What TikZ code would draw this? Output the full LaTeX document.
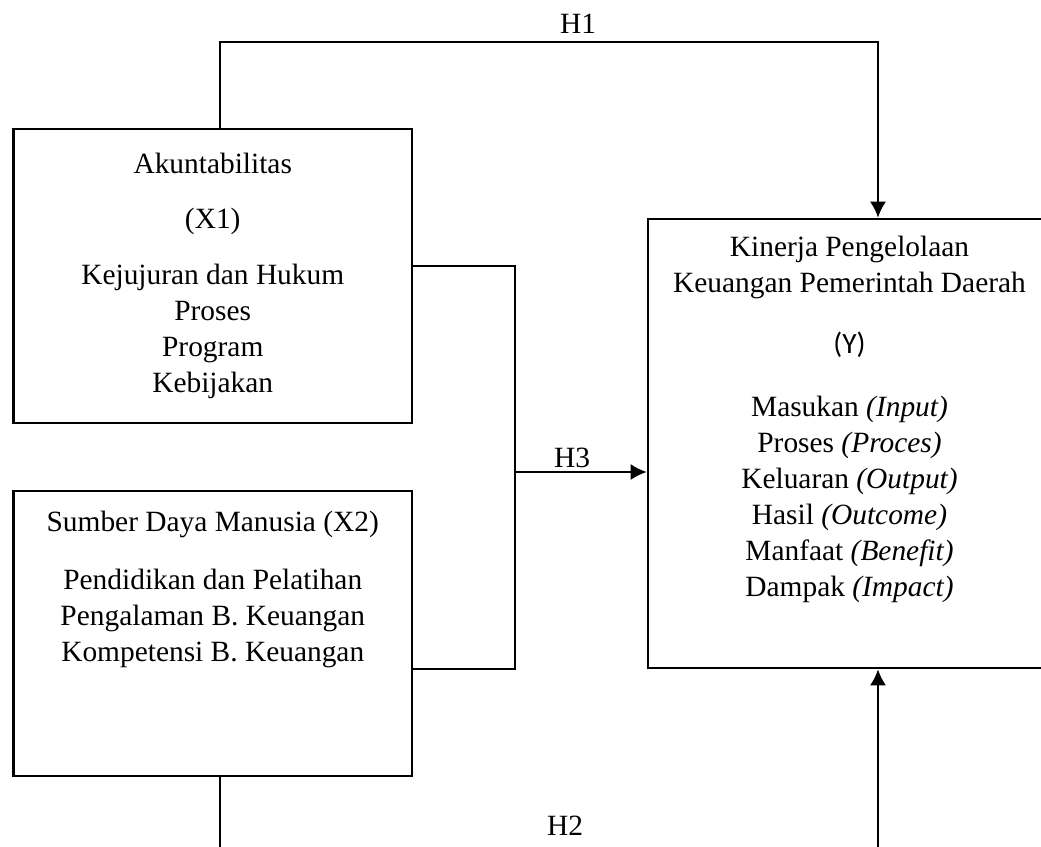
\documentclass[tikz,border=0pt]{standalone}
\usepackage{fontspec}
\setmainfont{Liberation Serif}
\newfontfamily\ysans{Carlito}
\usetikzlibrary{positioning,arrows.meta}

\tikzset{
  kotak/.style={draw, line width=1.3pt, minimum width=199.25pt},
  teks/.style={align=center, inner sep=0pt, font=\fontsize{14.7}{18}\selectfont},
  garis/.style={line width=1pt},
  panah/.style={garis, -{Latex[length=8pt,width=8pt]}},
}

\begin{document}
\begin{tikzpicture}[x=0.5pt,y=-0.5pt]
        \path[use as bounding box, clip] (0,0) rectangle (1041,847);

        % 方框
        \node[kotak, minimum height=147pt] (x1) at (212.75,276) {};
        \node[kotak, minimum height=142.5pt] (x2) at (212.75,633.5) {};
        \node[kotak, minimum width=201.5pt, minimum height=224.5pt] (y) at (849.5,443.5) {};

        % 文字
        \node[teks, below=12.6pt of x1.north] (x1teks) {Akuntabilitas\\[9.2pt](X1)\\[10pt]Kejujuran dan Hukum\\Proses\\Program\\Kebijakan};
        \node[teks, below=10.6pt of x2.north] (x2teks) {Sumber Daya Manusia (X2)\\[10.75pt]Pendidikan dan Pelatihan\\Pengalaman B. Keuangan\\Kompetensi B. Keuangan};
        \node[teks, below=8.8pt of y.north] (yteks) {Kinerja Pengelolaan\\Keuangan Pemerintah Daerah\\[12.5pt]{\ysans (Y)}\\[13.5pt]Masukan \textit{(Input)}\\Proses \textit{(Proces)}\\Keluaran \textit{(Output)}\\Hasil \textit{(Outcome)}\\Manfaat \textit{(Benefit)}\\Dampak \textit{(Impact)}};

        % 连线
        \coordinate (h1a) at (220,42);
        \coordinate (h1b) at (878,42);
        \draw[panah] (h1a |- x1.north) -- (h1a) -- (h1b) -- (h1b |- y.north);

        \coordinate (j1) at (515,266);
        \coordinate (j2) at (515,669);
        \coordinate (h3) at (515,472);
        \draw[garis] (j1 -| x1.east) -- (j1) -- (j2) -- (j2 -| x2.east);
        \draw[panah] (h3) -- (h3 -| y.west);

        \coordinate (h2a) at (220,880);
        \coordinate (h2b) at (878,880);
        \draw[panah] (h2a |- x2.south) -- (h2a) -- (h2b) -- (h2b |- y.south);

        % 标签
        \node[teks, anchor=base] (h1) at (578,33) {H1};
        \node[teks, anchor=base] (h3lbl) at (572,467) {H3};
        \node[teks, anchor=base] (h2) at (565,835) {H2};
    \end{tikzpicture}
\end{document}
